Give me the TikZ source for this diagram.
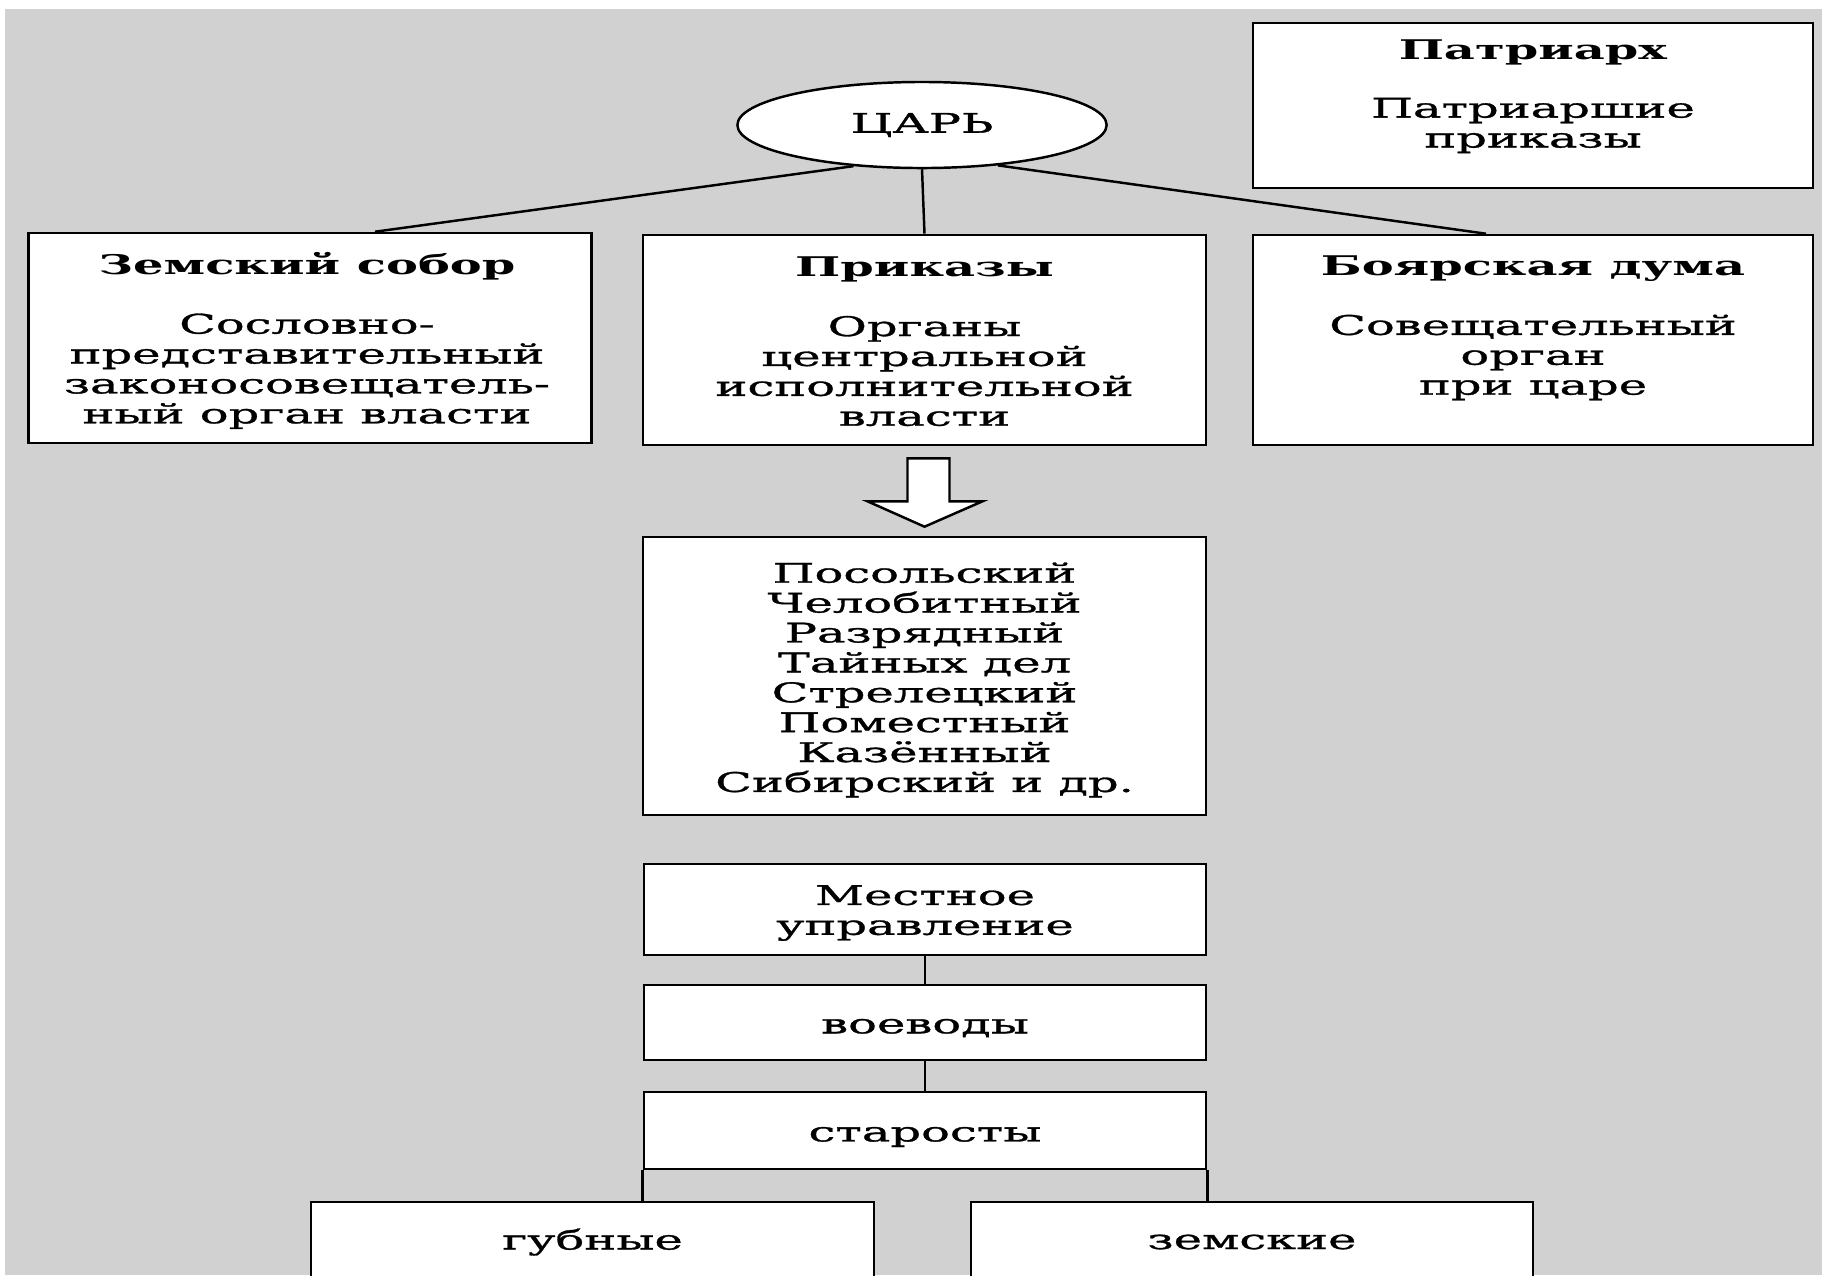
\documentclass[tikz,border=0pt]{standalone}
\usepackage{fontspec}
\setmainfont{DejaVu Serif}[FakeStretch=1.77, UprightFeatures={FakeBold=1.1}]
\usepackage{tikz}
\usetikzlibrary{calc,shapes.geometric}

\begin{document}
\begin{tikzpicture}[x=0.01cm,y=-0.01cm,
                blok/.style={draw, fill=white, line width=0.7pt, inner sep=0pt, minimum width=5.63cm},
                nadpis/.style={font=\fontsize{7.7}{8.5}\selectfont, align=center, inner sep=0pt},
                svyaz/.style={line width=0.7pt}]
                \useasboundingbox (0,0) rectangle (1822,1275);
                \clip (0,0) rectangle (1822,1275);
                \fill[white] (0,0) rectangle (1822,1275);
                \fill[black!18] (5,9) rectangle (1822,1275);
                % verh
                \node[ellipse, draw, fill=white, line width=0.7pt, inner sep=0pt, minimum width=3.69cm, minimum height=0.86cm, nadpis] (tsar) at (922,125) {ЦАРЬ};
                \node[blok, minimum width=5.6cm, minimum height=1.65cm] (patr) at (1533,105.5) {};
                \node[nadpis] (patr-t) at (1533,96.5) {\textbf{Патриарх}\\[8pt] Патриаршие\\приказы};
                \node[blok, minimum height=2.1cm] (zem) at (310,338) {};
                \node[nadpis] (zem-t) at (307,340.5) {\textbf{Земский собор}\\[8.4pt] Сословно-\\представительный\\законосовещатель-\\ный орган власти};
                \node[blok, minimum height=2.1cm] (prik) at (924.5,340) {};
                \node[nadpis] (prik-t) at (924.5,341.5) {\textbf{Приказы}\\[8.4pt] Органы\\центральной\\исполнительной\\власти};
                \node[blok, minimum width=5.6cm, minimum height=2.1cm] (boyar) at (1533,340) {};
                \node[nadpis] (boyar-t) at (1533,328) {\textbf{Боярская дума}\\[8.4pt] Совещательный\\орган\\при царе};
                % prikazy
                \node[blok, minimum height=2.78cm] (spisok) at (924.5,676) {};
                \node[nadpis] (spisok-t) at (924.5,680) {Посольский\\Челобитный\\Разрядный\\Тайных дел\\Стрелецкий\\Поместный\\Казённый\\Сибирский и др.};
                % mestnoe
                \node[blok, minimum width=5.62cm, minimum height=0.91cm] (mestn) at (925,909.5) {};
                \node[nadpis] (mestn-t) at (925,913) {Местное\\управление};
                \node[blok, minimum width=5.62cm, minimum height=0.75cm] (voev) at (925,1022.5) {};
                \node[nadpis] (voev-t) at (925,1028) {воеводы};
                \node[blok, minimum width=5.62cm, minimum height=0.77cm] (star) at (925,1130.5) {};
                \node[nadpis] (star-t) at (925,1137) {старосты};
                \node[blok, minimum height=1cm] (gub) at (592.5,1252) {};
                \node[nadpis] (gub-t) at (592.5,1242) {губные};
                \node[blok, minimum width=5.62cm, minimum height=1cm] (zemsk) at (1252,1252) {};
                \node[nadpis] (zemsk-t) at (1252,1242) {земские};
                % linii
                \draw[svyaz] (tsar.south) -- (prik.north);
                \draw[svyaz] (tsar.211) -- ([xshift=0.65cm]zem.north);
                \draw[svyaz] (tsar.332) -- ([xshift=-0.47cm]boyar.north);
                \draw[svyaz, fill=white] ($(prik.south)+(-17,12)$) -- ($(prik.south)+(25,12)$) -- ($(prik.south)+(25,55)$) -- ($(prik.south)+(58,55)$) -- ($(spisok.north)+(0,-9)$) -- ($(prik.south)+(-57,55)$) -- ($(prik.south)+(-17,55)$) -- cycle;
                \draw[svyaz] (mestn.south) -- (voev.north);
                \draw[svyaz] (voev.south) -- (star.north);
                \draw[svyaz] (star.south west) -- (star.south west |- gub.north);
                \draw[svyaz] (star.south east) -- (star.south east |- zemsk.north);
            \end{tikzpicture}
\end{document}
